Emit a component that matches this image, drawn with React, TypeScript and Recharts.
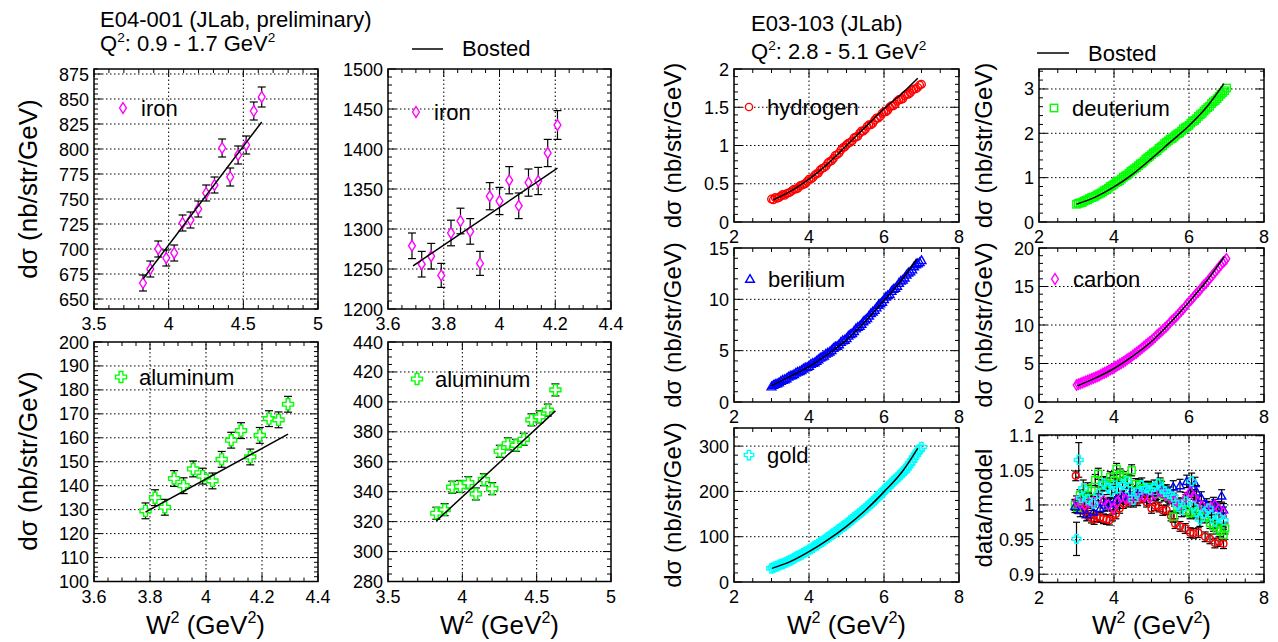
import React from 'react'
import {
  ComposedChart,
  Scatter,
  Line,
  XAxis,
  YAxis,
  ErrorBar,
  ReferenceLine,
  ReferenceArea
} from 'recharts'

const FONT = '"Liberation Sans", Arial, Helvetica, sans-serif'
const MAGENTA = '#ff00ff'
const GREEN = '#00ff00'
const RED = '#ff0000'
const BLUE = '#0000ff'
const CYAN = '#00ffff'

// ---------- E04-001, iron (W2 3.5 - 5) ----------
const IRON_A_W2 = [3.828, 3.877, 3.93, 3.984, 4.037, 4.093, 4.146, 4.198, 4.251, 4.307, 4.358, 4.412, 4.465, 4.519, 4.57, 4.623]
const IRON_A_XS = [666, 680, 700, 691, 696, 726, 729, 740, 756, 764, 801, 772, 794, 804, 838, 852]
const IRON_A_ERR = [8, 8, 8, 8, 8, 8, 8, 8, 8, 8, 9, 9, 9, 9, 9, 10]
const IRON_A_FIT = [{ x: 3.828, y: 670 }, { x: 4.623, y: 827 }]

// ---------- E04-001, iron (W2 3.6 - 4.4) ----------
const IRON_B_W2 = [3.686, 3.721, 3.755, 3.791, 3.826, 3.86, 3.895, 3.93, 3.965, 4.0, 4.035, 4.069, 4.104, 4.139, 4.173, 4.208]
const IRON_B_XS = [1279, 1256, 1266, 1242, 1295, 1310, 1297, 1257, 1341, 1335, 1361, 1329, 1358, 1360, 1395, 1430]
const IRON_B_ERR = [16, 16, 16, 15, 16, 16, 16, 15, 17, 17, 17, 16, 17, 17, 17, 18]
const IRON_B_FIT = [{ x: 3.69, y: 1254 }, { x: 4.208, y: 1376 }]

// ---------- E04-001, aluminum (W2 3.6 - 4.4) ----------
const AL_A_W2 = [3.784, 3.818, 3.853, 3.886, 3.92, 3.954, 3.988, 4.023, 4.056, 4.09, 4.125, 4.158, 4.192, 4.225, 4.259, 4.293]
const AL_A_XS = [129.5, 135, 131, 143, 140, 147, 144, 142, 151, 159, 163, 152, 161, 168, 167.5, 174]
const AL_A_ERR = [3.3, 3.3, 3.3, 3.3, 3.3, 3.3, 3.3, 3.3, 3.3, 3.3, 3.3, 3.3, 3.3, 3.3, 3.3, 3.3]
const AL_A_FIT = [{ x: 3.784, y: 129 }, { x: 4.293, y: 161.5 }]

// ---------- E04-001, aluminum (W2 3.5 - 5) ----------
const AL_B_W2 = [3.825, 3.881, 3.932, 3.986, 4.04, 4.091, 4.145, 4.201, 4.252, 4.306, 4.36, 4.413, 4.465, 4.519, 4.575, 4.626]
const AL_B_XS = [325.6, 328, 343, 343.5, 346, 338.5, 348, 342, 367, 372, 371, 375, 388, 390, 394.5, 408]
const AL_B_ERR = [4, 4, 4, 4, 4, 4, 4, 4, 4, 4, 4, 4, 4, 4, 4, 4]
const AL_B_FIT = [{ x: 3.825, y: 320.5 }, { x: 4.626, y: 394 }]

// ---------- E03-103 (dense W2 scan, two interleaved settings) ----------
const W2_SCAN = [3.0, 3.1, 3.2, 3.3, 3.4, 3.5, 3.6, 3.7, 3.8, 3.9, 4.0, 4.1, 4.2, 4.3, 4.4, 4.5, 4.6, 4.7, 4.8, 4.9, 5.0, 5.1, 5.2, 5.3, 5.4, 5.5, 5.6, 5.7, 5.8, 5.9, 6.0, 6.1, 6.2, 6.3, 6.4, 6.5, 6.6, 6.7, 6.8, 6.9, 7.0]
const W2_SCAN_B = [3.05, 3.15, 3.25, 3.35, 3.45, 3.55, 3.65, 3.75, 3.85, 3.95, 4.05, 4.15, 4.25, 4.35, 4.45, 4.55, 4.65, 4.75, 4.85, 4.95, 5.05, 5.15, 5.25, 5.35, 5.45, 5.55, 5.65, 5.75, 5.85, 5.95, 6.05, 6.15, 6.25, 6.35, 6.45, 6.55, 6.65, 6.75, 6.85, 6.95]

const H_XS = [0.3, 0.32, 0.32, 0.36, 0.37, 0.39, 0.43, 0.44, 0.48, 0.5, 0.56, 0.58, 0.63, 0.68, 0.71, 0.77, 0.8, 0.87, 0.9, 0.97, 1.01, 1.04, 1.1, 1.12, 1.19, 1.21, 1.27, 1.29, 1.36, 1.38, 1.44, 1.46, 1.52, 1.54, 1.6, 1.61, 1.67, 1.69, 1.74, 1.76, 1.8]
const H_XS_B = [0.29, 0.31, 0.34, 0.35, 0.38, 0.41, 0.43, 0.47, 0.49, 0.53, 0.56, 0.61, 0.64, 0.7, 0.73, 0.79, 0.83, 0.88, 0.94, 0.98, 1.03, 1.06, 1.11, 1.16, 1.19, 1.25, 1.27, 1.33, 1.36, 1.42, 1.44, 1.5, 1.52, 1.58, 1.6, 1.65, 1.67, 1.72, 1.74, 1.79]
const D_XS = [0.4, 0.43, 0.47, 0.5, 0.55, 0.58, 0.63, 0.68, 0.73, 0.8, 0.85, 0.91, 0.97, 1.04, 1.1, 1.17, 1.23, 1.31, 1.37, 1.45, 1.52, 1.58, 1.66, 1.72, 1.8, 1.87, 1.92, 1.99, 2.05, 2.13, 2.18, 2.27, 2.33, 2.42, 2.5, 2.58, 2.67, 2.74, 2.83, 2.92, 3.02]
const D_XS_B = [0.42, 0.44, 0.49, 0.53, 0.56, 0.61, 0.65, 0.71, 0.76, 0.82, 0.89, 0.93, 1.01, 1.06, 1.14, 1.2, 1.27, 1.33, 1.42, 1.48, 1.56, 1.61, 1.69, 1.77, 1.83, 1.88, 1.96, 2.01, 2.1, 2.15, 2.23, 2.29, 2.38, 2.45, 2.54, 2.61, 2.71, 2.78, 2.88, 2.96]
const BE_XS = [1.5, 1.75, 1.9, 2.15, 2.3, 2.55, 2.7, 2.95, 3.1, 3.35, 3.5, 3.8, 4.0, 4.3, 4.5, 4.8, 5.05, 5.4, 5.6, 6.0, 6.2, 6.6, 6.9, 7.3, 7.6, 8.0, 8.4, 8.8, 9.2, 9.6, 10.0, 10.4, 10.8, 11.1, 11.6, 11.9, 12.4, 12.7, 13.2, 13.5, 13.8]
const BE_XS_B = [1.65, 1.8, 2.05, 2.2, 2.45, 2.6, 2.85, 3.0, 3.25, 3.4, 3.7, 3.85, 4.15, 4.4, 4.7, 4.9, 5.25, 5.45, 5.85, 6.05, 6.45, 6.7, 7.15, 7.4, 7.85, 8.15, 8.65, 8.95, 9.45, 9.75, 10.25, 10.5, 11.0, 11.3, 11.8, 12.1, 12.6, 12.9, 13.4, 13.6]
const C_XS = [2.2, 2.4, 2.6, 2.8, 3.0, 3.2, 3.4, 3.7, 3.9, 4.2, 4.45, 4.75, 5.05, 5.35, 5.7, 6.05, 6.4, 6.8, 7.2, 7.6, 8.0, 8.45, 8.9, 9.35, 9.8, 10.35, 10.8, 11.3, 11.85, 12.4, 13.0, 13.5, 14.1, 14.6, 15.2, 15.7, 16.3, 16.9, 17.5, 18.1, 18.6]
const C_XS_B = [2.3, 2.5, 2.7, 2.9, 3.1, 3.3, 3.55, 3.8, 4.05, 4.3, 4.6, 4.9, 5.2, 5.55, 5.85, 6.25, 6.6, 7.0, 7.4, 7.8, 8.2, 8.7, 9.1, 9.6, 10.05, 10.6, 11.05, 11.6, 12.1, 12.7, 13.25, 13.8, 14.3, 14.9, 15.4, 16.0, 16.6, 17.2, 17.8, 18.3]
const AU_XS = [30, 34, 37, 40, 44, 48, 52, 57, 61, 66, 71, 76, 81, 87, 92, 98, 104, 110, 116, 122, 128, 135, 142, 148, 155, 162, 169, 177, 185, 193, 202, 210, 218, 226, 234, 242, 251, 262, 275, 287, 298]
const AU_XS_B = [32, 35, 39, 42, 46, 50, 55, 59, 64, 68, 73, 79, 84, 89, 95, 101, 107, 113, 119, 125, 131, 138, 145, 152, 158, 166, 173, 181, 189, 197, 206, 214, 222, 230, 238, 246, 256, 268, 281, 292]

const H_FIT = [{ x: 3.05, y: 0.29 }, { x: 3.5, y: 0.4 }, { x: 4.0, y: 0.56 }, { x: 4.5, y: 0.76 }, { x: 5.0, y: 1.0 }, { x: 5.5, y: 1.24 }, { x: 6.0, y: 1.48 }, { x: 6.5, y: 1.69 }, { x: 6.9, y: 1.88 }]
const D_FIT = [{ x: 3.0, y: 0.4 }, { x: 3.5, y: 0.56 }, { x: 4.0, y: 0.79 }, { x: 4.5, y: 1.08 }, { x: 5.0, y: 1.43 }, { x: 5.5, y: 1.8 }, { x: 6.0, y: 2.17 }, { x: 6.5, y: 2.62 }, { x: 6.93, y: 3.12 }]
const BE_FIT = [{ x: 3.0, y: 1.6 }, { x: 3.5, y: 2.5 }, { x: 4.0, y: 3.45 }, { x: 4.5, y: 4.65 }, { x: 5.0, y: 6.05 }, { x: 5.5, y: 7.85 }, { x: 6.0, y: 9.9 }, { x: 6.5, y: 12.0 }, { x: 6.88, y: 13.95 }]
const C_FIT = [{ x: 3.02, y: 2.09 }, { x: 3.5, y: 3.1 }, { x: 4.0, y: 4.35 }, { x: 4.5, y: 5.95 }, { x: 5.0, y: 7.85 }, { x: 5.5, y: 10.3 }, { x: 6.0, y: 13.0 }, { x: 6.5, y: 15.9 }, { x: 6.94, y: 18.9 }]
const AU_FIT = [{ x: 3.01, y: 30 }, { x: 3.5, y: 45 }, { x: 4.0, y: 67 }, { x: 4.5, y: 93 }, { x: 5.0, y: 123 }, { x: 5.5, y: 158 }, { x: 6.0, y: 199 }, { x: 6.5, y: 245 }, { x: 6.9, y: 295 }]

// ---------- data/model ratio: [W2, ratio, error] ----------
const RATIO_H = [[2.98, 1.042, 0.007], [3.06, 0.998, 0.008], [3.14, 0.995, 0.007], [3.22, 0.99, 0.007], [3.3, 0.985, 0.007], [3.4, 0.981, 0.007], [3.47, 0.979, 0.007], [3.54, 0.983, 0.007], [3.63, 0.982, 0.007], [3.72, 0.98, 0.007], [3.8, 0.979, 0.007], [3.88, 0.978, 0.007], [3.96, 0.984, 0.007], [4.05, 0.987, 0.007], [4.15, 0.995, 0.007], [4.25, 1.002, 0.007], [4.38, 1.004, 0.007], [4.52, 1.007, 0.007], [4.63, 1.006, 0.007], [4.74, 1.01, 0.007], [4.87, 1.004, 0.007], [5.0, 0.995, 0.007], [5.1, 0.999, 0.007], [5.2, 0.997, 0.007], [5.3, 0.992, 0.007], [5.4, 0.993, 0.007], [5.52, 0.984, 0.007], [5.63, 0.973, 0.007], [5.76, 0.969, 0.007], [5.9, 0.966, 0.007], [6.03, 0.96, 0.007], [6.12, 0.959, 0.007], [6.25, 0.96, 0.007], [6.43, 0.954, 0.007], [6.56, 0.951, 0.007], [6.69, 0.945, 0.007], [6.8, 0.947, 0.007], [6.92, 0.944, 0.007]]
const RATIO_D = [[2.96, 1.0, 0.008], [3.02, 0.996, 0.008], [3.09, 1.014, 0.008], [3.2, 1.01, 0.008], [3.3, 1.024, 0.008], [3.4, 1.02, 0.008], [3.5, 1.036, 0.008], [3.58, 1.045, 0.008], [3.68, 1.028, 0.008], [3.8, 1.031, 0.008], [3.9, 1.04, 0.008], [4.0, 1.035, 0.008], [4.07, 1.052, 0.008], [4.16, 1.044, 0.008], [4.25, 1.04, 0.008], [4.36, 1.036, 0.008], [4.47, 1.05, 0.008], [4.58, 1.03, 0.008], [4.69, 1.029, 0.008], [4.8, 1.024, 0.008], [4.92, 1.026, 0.008], [5.05, 1.02, 0.008], [5.13, 1.016, 0.008], [5.23, 1.031, 0.008], [5.34, 1.014, 0.008], [5.45, 1.012, 0.008], [5.58, 0.983, 0.008], [5.69, 0.996, 0.008], [5.8, 1.002, 0.008], [5.92, 0.992, 0.008], [6.03, 0.988, 0.008], [6.16, 0.99, 0.008], [6.29, 0.993, 0.008], [6.42, 0.982, 0.008], [6.56, 0.974, 0.008], [6.65, 0.97, 0.008], [6.74, 0.966, 0.008], [6.84, 0.962, 0.008], [6.92, 0.957, 0.008], [6.96, 0.966, 0.008]]
const RATIO_BE = [[2.96, 0.998, 0.009], [3.1, 0.992, 0.009], [3.27, 0.986, 0.009], [3.45, 0.99, 0.009], [3.63, 0.995, 0.009], [3.76, 1.0, 0.009], [3.89, 1.002, 0.009], [4.06, 1.008, 0.009], [4.25, 1.012, 0.009], [4.42, 1.015, 0.009], [4.6, 1.017, 0.009], [4.78, 1.02, 0.009], [4.96, 1.022, 0.009], [5.1, 1.018, 0.009], [5.23, 1.026, 0.009], [5.4, 1.02, 0.009], [5.58, 1.026, 0.009], [5.76, 1.028, 0.009], [5.94, 1.034, 0.009], [6.05, 1.02, 0.009], [6.16, 1.031, 0.009], [6.2, 1.019, 0.009], [6.33, 1.01, 0.009], [6.47, 1.0, 0.009], [6.56, 0.995, 0.009], [6.65, 1.002, 0.009], [6.76, 0.996, 0.009], [6.87, 1.013, 0.009], [6.92, 0.993, 0.009]]
const RATIO_C = [[3.0, 1.005, 0.008], [3.1, 1.002, 0.008], [3.22, 1.0, 0.008], [3.33, 1.003, 0.008], [3.45, 1.005, 0.008], [3.58, 1.008, 0.008], [3.72, 1.007, 0.008], [3.85, 1.0, 0.008], [3.98, 0.995, 0.008], [4.09, 1.004, 0.008], [4.2, 1.012, 0.008], [4.31, 1.009, 0.008], [4.43, 1.007, 0.008], [4.56, 1.011, 0.008], [4.69, 1.014, 0.008], [4.82, 1.012, 0.008], [4.96, 1.01, 0.008], [5.1, 1.015, 0.008], [5.23, 1.019, 0.008], [5.36, 1.014, 0.008], [5.49, 1.01, 0.008], [5.62, 1.006, 0.008], [5.76, 1.0, 0.008], [5.9, 1.01, 0.008], [6.03, 1.019, 0.008], [6.14, 1.011, 0.008], [6.24, 1.005, 0.008], [6.36, 0.998, 0.008], [6.47, 0.993, 0.008], [6.58, 0.997, 0.008], [6.69, 1.0, 0.008], [6.8, 0.994, 0.008], [6.92, 0.989, 0.008]]
const RATIO_AU = [[3.06, 1.065, 0.025], [3.0, 0.951, 0.024], [3.12, 1.01, 0.012], [3.18, 1.024, 0.012], [3.3, 1.008, 0.01], [3.45, 1.002, 0.01], [3.58, 1.016, 0.01], [3.72, 1.031, 0.01], [3.83, 1.025, 0.01], [3.94, 1.019, 0.01], [4.03, 1.028, 0.01], [4.12, 1.024, 0.01], [4.23, 1.03, 0.01], [4.34, 1.034, 0.01], [4.43, 1.02, 0.01], [4.52, 1.007, 0.01], [4.63, 1.018, 0.01], [4.74, 1.029, 0.01], [4.85, 1.024, 0.01], [4.96, 1.022, 0.01], [5.07, 1.026, 0.01], [5.18, 1.031, 0.015], [5.27, 1.024, 0.01], [5.36, 1.019, 0.01], [5.47, 1.016, 0.01], [5.58, 1.012, 0.01], [5.69, 1.0, 0.01], [5.8, 0.993, 0.01], [5.92, 1.005, 0.01], [6.07, 1.034, 0.012], [6.12, 0.998, 0.01], [6.2, 0.99, 0.01], [6.29, 0.979, 0.01], [6.4, 0.988, 0.01], [6.52, 0.995, 0.01], [6.6, 0.985, 0.01], [6.69, 0.976, 0.01], [6.8, 0.982, 0.01], [6.92, 0.978, 0.01]]

// ---------- axis ticks (labelled values) ----------
const X_TICKS_35_5 = [3.5, 4, 4.5, 5]
const X_TICKS_36_44 = [3.6, 3.8, 4, 4.2, 4.4]
const X_TICKS_2_8 = [2, 4, 6, 8]
const Y_TICKS_IRON_A = [650, 675, 700, 725, 750, 775, 800, 825, 850, 875]
const Y_TICKS_IRON_B = [1200, 1250, 1300, 1350, 1400, 1450, 1500]
const Y_TICKS_AL_A = [100, 110, 120, 130, 140, 150, 160, 170, 180, 190, 200]
const Y_TICKS_AL_B = [280, 300, 320, 340, 360, 380, 400, 420, 440]
const Y_TICKS_H = [0, 0.5, 1, 1.5, 2]
const Y_TICKS_D = [0, 1, 2, 3]
const Y_TICKS_BE = [0, 5, 10, 15]
const Y_TICKS_C = [0, 5, 10, 15, 20]
const Y_TICKS_AU = [0, 100, 200, 300]
const Y_TICKS_RATIO = [0.9, 0.95, 1, 1.05, 1.1]

type Pt = { x: number; y: number; err?: number }
type Kind = 'diamond' | 'cross' | 'circle' | 'square' | 'triangle'

const zip = (xs: number[], ys: number[], es?: number[]): Pt[] =>
  xs.map((x, i) => ({ x, y: ys[i], err: es ? es[i] : 0 }))
const fromTriples = (rows: number[][]): Pt[] => rows.map(([x, y, err]) => ({ x, y, err }))

function Marker({ cx, cy, kind, color, s = 1, fill = 'none', sw = 1.4 }: {
  cx: number; cy: number; kind: Kind; color: string; s?: number; fill?: string; sw?: number
}) {
  if (cx == null || cy == null) return null
  if (kind === 'diamond') {
    const w = 3.4 * s, h = 5.4 * s
    return <path d={`M${cx},${cy - h}L${cx + w},${cy}L${cx},${cy + h}L${cx - w},${cy}Z`} fill={fill} stroke={color} strokeWidth={sw} />
  }
  if (kind === 'cross') {
    const r = 5.5 * s, a = 1.9 * s
    const pts = [[-a, -r], [a, -r], [a, -a], [r, -a], [r, a], [a, a], [a, r], [-a, r], [-a, a], [-r, a], [-r, -a], [-a, -a]]
    return <polygon points={pts.map(([dx, dy]) => `${cx + dx},${cy + dy}`).join(' ')} fill={fill} stroke={color} strokeWidth={sw} />
  }
  if (kind === 'circle') return <circle cx={cx} cy={cy} r={3.6 * s} fill={fill} stroke={color} strokeWidth={sw} />
  if (kind === 'square') {
    const h = 3.7 * s
    return <rect x={cx - h} y={cy - h} width={2 * h} height={2 * h} fill={fill} stroke={color} strokeWidth={sw} />
  }
  const h = 4.4 * s
  return <path d={`M${cx},${cy - h}L${cx + h},${cy + h * 0.75}L${cx - h},${cy + h * 0.75}Z`} fill={fill} stroke={color} strokeWidth={sw} />
}

const near = (v: number, list: number[]) => list.some((m) => Math.abs(m - v) < 1e-7)
const fmt = (v: number) => String(+v.toFixed(4))
function allTicks(dom: [number, number], step: number) {
  const out: number[] = []
  const k0 = Math.ceil(dom[0] / step - 1e-9)
  const k1 = Math.floor(dom[1] / step + 1e-9)
  for (let k = k0; k <= k1; k++) out.push(+(k * step).toFixed(6))
  return out
}

const makeXTick = (major: number[], h: number) => (p: any) => {
  const { x, y, payload } = p
  const maj = near(payload.value, major)
  const len = maj ? 8 : 4
  return (
    <g>
      <line x1={x} x2={x} y1={y} y2={y - len} stroke="#000" />
      <line x1={x} x2={x} y1={y - h} y2={y - h + len} stroke="#000" />
      {maj && (
        <text x={x} y={y + 21} textAnchor="middle" fontSize={18} fontFamily={FONT} fill="#000">
          {fmt(payload.value)}
        </text>
      )}
    </g>
  )
}

const makeYTick = (major: number[], w: number) => (p: any) => {
  const { x, y, payload } = p
  const maj = near(payload.value, major)
  const len = maj ? 8 : 4
  return (
    <g>
      <line x1={x} x2={x + len} y1={y} y2={y} stroke="#000" />
      <line x1={x + w} x2={x + w - len} y1={y} y2={y} stroke="#000" />
      {maj && (
        <text x={x - 5} y={y + 6.5} textAnchor="end" fontSize={18} fontFamily={FONT} fill="#000">
          {fmt(payload.value)}
        </text>
      )}
    </g>
  )
}

type Series = { data: Pt[]; kind: Kind; color: string; s: number; fill: string; cap: number; bars: boolean }
type PanelProps = {
  left: number; top: number; w: number; h: number
  xDom: [number, number]; xMajor: number[]; xStep: number
  yDom: [number, number]; yMajor: number[]; yStep: number
  series: Series[]; fit?: Pt[]; fitType?: 'linear' | 'monotone'
}

const ML = 60, MT = 10, MR = 26, XH = 40

function Panel(p: PanelProps) {
  const W = p.w + ML + MR
  const H = p.h + MT + XH
  const xGrid = p.xMajor.filter((v) => v > p.xDom[0] + 1e-9 && v < p.xDom[1] - 1e-9)
  const yGrid = p.yMajor.filter((v) => v > p.yDom[0] + 1e-9 && v < p.yDom[1] - 1e-9)
  const margin = { top: MT, right: MR, bottom: 0, left: 0 }
  return (
    <>
      <div style={{ position: 'absolute', left: p.left - ML, top: p.top - MT, width: W, height: H }}>
        <ComposedChart width={W} height={H} margin={margin}>
          <XAxis type="number" dataKey="x" domain={p.xDom} ticks={allTicks(p.xDom, p.xStep)} interval={0}
            allowDataOverflow tickLine={false} axisLine={false} tickSize={0} tickMargin={0} height={XH}
            tick={makeXTick(p.xMajor, p.h)} />
          <YAxis type="number" domain={p.yDom} ticks={allTicks(p.yDom, p.yStep)} interval={0}
            allowDataOverflow tickLine={false} axisLine={false} tickSize={0} tickMargin={0} width={ML}
            tick={makeYTick(p.yMajor, p.w)} />
          {xGrid.map((v) => (
            <ReferenceLine key={`gx${v}`} x={v} stroke="#000" strokeWidth={1} strokeDasharray="1.5 2.5" />
          ))}
          {yGrid.map((v) => (
            <ReferenceLine key={`gy${v}`} y={v} stroke="#000" strokeWidth={1} strokeDasharray="1.5 2.5" />
          ))}
          <ReferenceArea x1={p.xDom[0]} x2={p.xDom[1]} y1={p.yDom[0]} y2={p.yDom[1]}
            fill="none" fillOpacity={0} stroke="#000" strokeWidth={1.5} />
          {p.series.map((s, i) => (
            <Scatter key={i} data={s.data} dataKey="y" isAnimationActive={false}
              shape={(q: any) => <Marker cx={q.cx} cy={q.cy} kind={s.kind} color={s.color} s={s.s} fill={s.fill} />}>
              {s.bars && <ErrorBar dataKey="err" direction="y" width={s.cap} stroke="#000" strokeWidth={1.2} isAnimationActive={false} />}
            </Scatter>
          ))}
        </ComposedChart>
      </div>
      {p.fit && (
        // the model curve sits in a second, transparent chart stacked on top so it is never hidden by markers
        <div style={{ position: 'absolute', left: p.left - ML, top: p.top - MT, width: W, height: H }}>
          <ComposedChart width={W} height={H} margin={margin}>
            <XAxis type="number" dataKey="x" domain={p.xDom} allowDataOverflow tick={false} tickLine={false}
              axisLine={false} height={XH} />
            <YAxis type="number" domain={p.yDom} allowDataOverflow tick={false} tickLine={false}
              axisLine={false} width={ML} />
            <Line data={p.fit} dataKey="y" type={p.fitType ?? 'linear'} stroke="#000" strokeWidth={1.5}
              dot={false} activeDot={false} isAnimationActive={false} />
          </ComposedChart>
        </div>
      )}
    </>
  )
}

const dense = (ys: number[], ysB: number[], kind: Kind, color: string, s = 1): Series[] => [
  { data: zip(W2_SCAN, ys), kind, color, s, fill: 'none', cap: 0, bars: false },
  { data: zip(W2_SCAN_B, ysB), kind, color, s, fill: 'none', cap: 0, bars: false }
]
const ratio = (rows: number[][], kind: Kind, color: string, s = 0.95): Series => ({
  data: fromTriples(rows), kind, color, s, fill: 'none', cap: 3.5, bars: true
})

function Sup({ children, size }: { children: string; size: number }) {
  return <tspan dy={-size * 0.42} fontSize={size * 0.62}>{children}</tspan>
}

function W2Title({ x }: { x: number }) {
  const fs = 26
  return (
    <text x={x} y={634} textAnchor="middle" fontSize={fs} fontFamily={FONT}>
      W<Sup size={fs}>2</Sup><tspan dy={fs * 0.42}> (GeV</tspan><Sup size={fs}>2</Sup><tspan dy={fs * 0.42}>)</tspan>
    </text>
  )
}

function YTitle({ x, y, text, fs }: { x: number; y: number; text: string; fs: number }) {
  return (
    <text transform={`translate(${x},${y}) rotate(-90)`} textAnchor="middle" fontSize={fs} fontFamily={FONT}>
      {text}
    </text>
  )
}

function LegendItem({ x, y, kind, color, label, s = 1 }: { x: number; y: number; kind: Kind; color: string; label: string; s?: number }) {
  return (
    <g>
      <Marker cx={x} cy={y} kind={kind} color={color} s={s} fill="#fff" />
      <text x={x + 18} y={y + 8} fontSize={22} fontFamily={FONT}>{label}</text>
    </g>
  )
}

export default function App() {
  const big = { w: 224, h: 240 }
  const small = { w: 225, h: 153 }
  return (
    <div style={{ position: 'absolute', left: 0, top: 0, width: 1278, height: 642, background: '#fff', overflow: 'hidden' }}>
      {/* E04-001 */}
      <Panel left={93.5} top={69} {...big} xDom={[3.5, 5]} xMajor={X_TICKS_35_5} xStep={0.1}
        yDom={[640, 880]} yMajor={Y_TICKS_IRON_A} yStep={5}
        series={[{ data: zip(IRON_A_W2, IRON_A_XS, IRON_A_ERR), kind: 'diamond', color: MAGENTA, s: 1, fill: '#fff', cap: 4, bars: true }]}
        fit={IRON_A_FIT} />
      <Panel left={388} top={69} {...big} w={223} xDom={[3.6, 4.4]} xMajor={X_TICKS_36_44} xStep={0.05}
        yDom={[1200, 1500]} yMajor={Y_TICKS_IRON_B} yStep={10}
        series={[{ data: zip(IRON_B_W2, IRON_B_XS, IRON_B_ERR), kind: 'diamond', color: MAGENTA, s: 1, fill: '#fff', cap: 4, bars: true }]}
        fit={IRON_B_FIT} />
      <Panel left={93.5} top={342} {...big} h={239.5} xDom={[3.6, 4.4]} xMajor={X_TICKS_36_44} xStep={0.05}
        yDom={[100, 200]} yMajor={Y_TICKS_AL_A} yStep={2}
        series={[{ data: zip(AL_A_W2, AL_A_XS, AL_A_ERR), kind: 'cross', color: GREEN, s: 1, fill: '#fff', cap: 4, bars: true }]}
        fit={AL_A_FIT} />
      <Panel left={388} top={342} {...big} w={223} h={239.5} xDom={[3.5, 5]} xMajor={X_TICKS_35_5} xStep={0.1}
        yDom={[280, 440]} yMajor={Y_TICKS_AL_B} yStep={5}
        series={[{ data: zip(AL_B_W2, AL_B_XS, AL_B_ERR), kind: 'cross', color: GREEN, s: 1, fill: '#fff', cap: 4, bars: true }]}
        fit={AL_B_FIT} />

      {/* E03-103 */}
      <Panel left={734} top={69} {...small} xDom={[2, 8]} xMajor={X_TICKS_2_8} xStep={0.5}
        yDom={[0, 2]} yMajor={Y_TICKS_H} yStep={0.1}
        series={dense(H_XS, H_XS_B, 'circle', RED, 1.05)} fit={H_FIT} fitType="monotone" />
      <Panel left={1039} top={69} {...small} xDom={[2, 8]} xMajor={X_TICKS_2_8} xStep={0.5}
        yDom={[0, 3.45]} yMajor={Y_TICKS_D} yStep={0.2}
        series={dense(D_XS, D_XS_B, 'square', GREEN)} fit={D_FIT} fitType="monotone" />
      <Panel left={734} top={248} {...small} h={154} xDom={[2, 8]} xMajor={X_TICKS_2_8} xStep={0.5}
        yDom={[0, 15]} yMajor={Y_TICKS_BE} yStep={1}
        series={dense(BE_XS, BE_XS_B, 'triangle', BLUE)} fit={BE_FIT} fitType="monotone" />
      <Panel left={1039} top={248} {...small} h={154} xDom={[2, 8]} xMajor={X_TICKS_2_8} xStep={0.5}
        yDom={[0, 20]} yMajor={Y_TICKS_C} yStep={1}
        series={dense(C_XS, C_XS_B, 'diamond', MAGENTA, 0.95)} fit={C_FIT} fitType="monotone" />
      <Panel left={734} top={428} {...small} h={154} xDom={[2, 8]} xMajor={X_TICKS_2_8} xStep={0.5}
        yDom={[0, 340]} yMajor={Y_TICKS_AU} yStep={20}
        series={dense(AU_XS, AU_XS_B, 'cross', CYAN, 0.85)} fit={AU_FIT} fitType="monotone" />
      <Panel left={1039} top={435} {...small} h={147.5} xDom={[2, 8]} xMajor={X_TICKS_2_8} xStep={0.5}
        yDom={[0.888, 1.101]} yMajor={Y_TICKS_RATIO} yStep={0.01}
        series={[
          ratio(RATIO_H, 'circle', RED),
          ratio(RATIO_D, 'square', GREEN),
          ratio(RATIO_BE, 'triangle', BLUE),
          ratio(RATIO_C, 'diamond', MAGENTA),
          ratio(RATIO_AU, 'cross', CYAN, 0.8)
        ]} />

      <svg width={1278} height={642} style={{ position: 'absolute', left: 0, top: 0, pointerEvents: 'none' }}>
        <g fill="#000">
          <text x={100} y={27} fontSize={22} fontFamily={FONT}>E04-001 (JLab, preliminary)</text>
          <text x={100} y={51} fontSize={22} fontFamily={FONT}>
            Q<Sup size={22}>2</Sup><tspan dy={22 * 0.42}>: 0.9 - 1.7 GeV</tspan><Sup size={22}>2</Sup>
          </text>
          <line x1={412} x2={443} y1={49} y2={49} stroke="#000" strokeWidth={1.5} />
          <text x={462} y={56} fontSize={22} fontFamily={FONT}>Bosted</text>

          <text x={751} y={31} fontSize={22} fontFamily={FONT}>E03-103 (JLab)</text>
          <text x={751} y={59} fontSize={22} fontFamily={FONT}>
            Q<Sup size={22}>2</Sup><tspan dy={22 * 0.42}>: 2.8 - 5.1 GeV</tspan><Sup size={22}>2</Sup>
          </text>
          <line x1={1037} x2={1069} y1={53} y2={53} stroke="#000" strokeWidth={1.5} />
          <text x={1088} y={61} fontSize={22} fontFamily={FONT}>Bosted</text>

          <LegendItem x={123} y={108} kind="diamond" color={MAGENTA} label="iron" />
          <LegendItem x={416} y={112} kind="diamond" color={MAGENTA} label="iron" />
          <LegendItem x={121} y={377} kind="cross" color={GREEN} label="aluminum" />
          <LegendItem x={417} y={379} kind="cross" color={GREEN} label="aluminum" />
          <LegendItem x={749} y={107} kind="circle" color={RED} label="hydrogen" />
          <LegendItem x={1054} y={108} kind="square" color={GREEN} label="deuterium" />
          <LegendItem x={750} y={279} kind="triangle" color={BLUE} label="berilium" />
          <LegendItem x={1055} y={279} kind="diamond" color={MAGENTA} label="carbon" />
          <LegendItem x={749} y={455} kind="cross" color={CYAN} label="gold" s={0.85} />

          <W2Title x={205.5} />
          <W2Title x={499.5} />
          <W2Title x={846.5} />
          <W2Title x={1151.5} />

          <YTitle x={37} y={189} text="dσ (nb/str/GeV)" fs={26} />
          <YTitle x={37} y={461} text="dσ (nb/str/GeV)" fs={26} />
          <YTitle x={681} y={145.5} text="dσ (nb/str/GeV)" fs={24} />
          <YTitle x={681} y={325} text="dσ (nb/str/GeV)" fs={24} />
          <YTitle x={681} y={505} text="dσ (nb/str/GeV)" fs={24} />
          <YTitle x={992} y={145.5} text="dσ (nb/str/GeV)" fs={24} />
          <YTitle x={992} y={325} text="dσ (nb/str/GeV)" fs={24} />
          <YTitle x={992} y={508} text="data/model" fs={24} />
        </g>
      </svg>
    </div>
  )
}
